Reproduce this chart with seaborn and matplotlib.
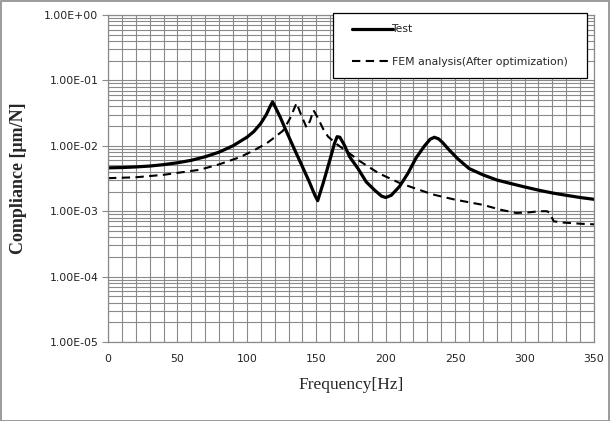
import numpy as np
import pandas as pd
import matplotlib
matplotlib.use("Agg")
import matplotlib.pyplot as plt
import seaborn as sns
from matplotlib.ticker import MultipleLocator, LogLocator, NullFormatter
from matplotlib.patches import Rectangle

# ---- data ----
test_freq = [0, 10, 20, 30, 40, 50, 60, 70, 80, 90, 100, 105, 110, 114, 117, 118.5, 120,
             124, 128, 134, 140, 145, 149, 151, 155, 160, 163, 165, 167, 170, 174, 180,
             186, 192, 197, 200, 204, 210, 216, 222, 228, 232, 235, 238, 241, 246, 252,
             260, 270, 280, 290, 300, 310, 320, 330, 340, 350]
test_val = [4.6e-3, 4.65e-3, 4.75e-3, 4.9e-3, 5.15e-3, 5.5e-3, 6.0e-3, 6.8e-3, 8.0e-3,
            1.0e-2, 1.35e-2, 1.65e-2, 2.2e-2, 3.0e-2, 4.1e-2, 4.7e-2, 4.1e-2,
            2.75e-2, 1.75e-2, 9.1e-3, 4.8e-3, 2.8e-3, 1.75e-3, 1.45e-3, 2.7e-3, 6.3e-3,
            1.07e-2, 1.38e-2, 1.35e-2, 1.05e-2, 6.8e-3, 4.5e-3,
            2.8e-3, 2.1e-3, 1.7e-3, 1.62e-3, 1.75e-3, 2.4e-3, 3.8e-3, 6.6e-3, 1.0e-2,
            1.26e-2, 1.35e-2, 1.28e-2, 1.12e-2, 8.5e-3, 6.3e-3,
            4.5e-3, 3.6e-3, 3.0e-3, 2.65e-3, 2.35e-3, 2.1e-3, 1.9e-3, 1.75e-3, 1.62e-3, 1.52e-3]

fem_freq = [0, 20, 40, 66, 80, 95, 105, 114.5, 120, 126, 131, 135.8, 139, 143, 145.5,
            148, 151, 155, 158.5, 165, 172, 181.5, 195, 210, 222, 234, 250, 270, 283,
            294, 303, 311, 316, 318, 321, 328, 342, 350]
fem_val = [3.2e-3, 3.3e-3, 3.6e-3, 4.3e-3, 5.2e-3, 6.7e-3, 8.5e-3, 1.1e-2, 1.35e-2, 1.7e-2,
           2.6e-2, 4.5e-2, 3.0e-2, 1.9e-2, 2.4e-2,
           3.5e-2, 2.7e-2, 1.8e-2, 1.38e-2, 1.05e-2, 8.2e-3, 5.8e-3, 3.8e-3, 2.7e-3, 2.2e-3,
           1.8e-3, 1.5e-3, 1.25e-3, 1.05e-3,
           9.4e-4, 9.6e-4, 1.0e-3, 1.0e-3, 9.5e-4, 7.0e-4, 6.7e-4, 6.4e-4, 6.3e-4]

series_labels = ["Test", "FEM analysis(After optimization)"]
ytick_vals = [1e-5, 1e-4, 1e-3, 1e-2, 1e-1, 1e0]
ytick_labels = ["1.00E-05", "1.00E-04", "1.00E-03", "1.00E-02", "1.00E-01", "1.00E+00"]
xtick_vals = [0, 50, 100, 150, 200, 250, 300, 350]

df = pd.concat([
    pd.DataFrame({"Frequency": test_freq, "Compliance": test_val, "Series": series_labels[0]}),
    pd.DataFrame({"Frequency": fem_freq, "Compliance": fem_val, "Series": series_labels[1]}),
], ignore_index=True)

sns.set_style("white")
plt.rcParams["font.family"] = ["DejaVu Sans"]

fig = plt.figure(figsize=(6.10, 4.21), dpi=100)
ax = fig.add_axes([108 / 610, 1 - 342 / 421, 486 / 610, 327 / 421])

sns.lineplot(data=df, x="Frequency", y="Compliance", hue="Series", style="Series",
             palette=["black", "black"], dashes={series_labels[0]: "", series_labels[1]: (4, 2.6)},
             ax=ax, estimator=None, sort=False, legend=True)
lines = ax.get_lines()
lines[0].set_linewidth(2.3)
lines[1].set_linewidth(1.5)

ax.set_yscale("log")
ax.set_xlim(0, 350)
ax.set_ylim(1e-5, 1e0)

ax.set_yticks(ytick_vals)
ax.set_yticklabels(ytick_labels)
ax.yaxis.set_minor_locator(LogLocator(base=10, subs=np.arange(2, 10)))
ax.yaxis.set_minor_formatter(NullFormatter())
ax.set_xticks(xtick_vals)
ax.set_xticklabels([str(v) for v in xtick_vals])
ax.xaxis.set_minor_locator(MultipleLocator(10))

gc = "#8a8a8a"
ax.grid(True, which="both", axis="both", color=gc, linewidth=0.8)
ax.set_axisbelow(True)
for s in ax.spines.values():
    s.set_color(gc)
    s.set_linewidth(0.9)

ax.tick_params(axis="y", which="major", direction="out", length=4, color=gc, labelsize=7.8,
               labelcolor="#222222", pad=3, left=True)
ax.tick_params(axis="y", which="minor", length=0)
ax.tick_params(axis="x", which="both", length=0, labelsize=7.8, labelcolor="#222222", pad=9)

ax.set_xlabel("Frequency[Hz]", fontfamily="Liberation Serif", fontsize=12.5, labelpad=9)
ax.set_ylabel("Compliance [μm/N]", fontfamily="Liberation Serif", fontweight="bold",
              fontsize=13, labelpad=12)

handles, labels = ax.get_legend_handles_labels()
leg = ax.legend(handles, labels, loc="upper left", bbox_to_anchor=(0.463, 1.006, 0.523, 0.0),
                mode="expand", frameon=True, fancybox=False, edgecolor="black",
                framealpha=1, fontsize=7.8, handlelength=3.8, handletextpad=0.55,
                labelspacing=2.05, borderpad=1.05, borderaxespad=0)
leg.get_frame().set_linewidth(0.9)
for lh, lw in zip(leg.get_lines(), [2.3, 1.5]):
    lh.set_linewidth(lw)
    lh.set_xdata(np.asarray(lh.get_xdata(), dtype=float) + 5.5)

fig.patches.append(Rectangle((0.001, 0.001), 0.997, 0.997, transform=fig.transFigure,
                             fill=False, edgecolor="#8a8a8a", linewidth=1.2))

fig.savefig("out.png", dpi=100)
